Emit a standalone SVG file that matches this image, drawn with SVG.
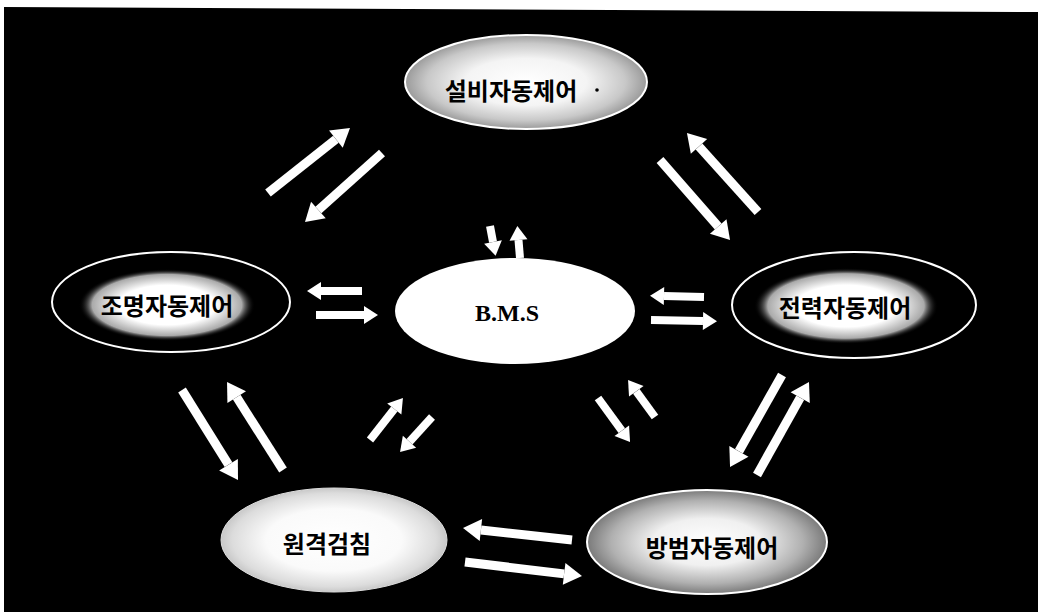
<svg xmlns="http://www.w3.org/2000/svg" width="1041" height="615" viewBox="0 0 1041 615">
<style>
.lbl{font-family:"Noto Sans CJK KR","Noto Sans",sans-serif;font-weight:700;font-size:24px;fill:#000;text-anchor:middle;dominant-baseline:central}
.bms{font-family:"Liberation Serif",serif;font-weight:700;font-size:24px;fill:#000;text-anchor:middle;dominant-baseline:central}
.arr{stroke:#fff;stroke-width:9;fill:none;stroke-linecap:butt}
.arrs{stroke:#fff;stroke-width:8;fill:none;stroke-linecap:butt}
.ring{stroke:#fff;stroke-width:2}
</style>
<defs>
<marker id="hd" markerUnits="userSpaceOnUse" markerWidth="20" markerHeight="22" refX="0" refY="11" orient="auto" overflow="visible">
<path d="M0,0 L18,11 L0,22 Z" fill="#fff"/>
</marker>
<marker id="hs" markerUnits="userSpaceOnUse" markerWidth="16" markerHeight="18" refX="0" refY="9" orient="auto" overflow="visible">
<path d="M0,0 L14,9 L0,18 Z" fill="#fff"/>
</marker>
<radialGradient id="gGray" cx="50%" cy="50%" r="50%">
<stop offset="0" stop-color="#fff"/>
<stop offset="0.5" stop-color="#f4f4f4"/>
<stop offset="0.82" stop-color="#c8c8c8"/>
<stop offset="1" stop-color="#9a9a9a"/>
</radialGradient>
<radialGradient id="gDark" cx="50%" cy="50%" r="50%">
<stop offset="0" stop-color="#fff"/>
<stop offset="0.45" stop-color="#f0f0f0"/>
<stop offset="0.8" stop-color="#b0b0b0"/>
<stop offset="1" stop-color="#7a7a7a"/>
</radialGradient>
<radialGradient id="gLight" cx="50%" cy="50%" r="50%">
<stop offset="0" stop-color="#fff"/>
<stop offset="0.6" stop-color="#fafafa"/>
<stop offset="0.9" stop-color="#dcdcdc"/>
<stop offset="1" stop-color="#c8c8c8"/>
</radialGradient>
<radialGradient id="gGlow" cx="50%" cy="50%" r="50%">
<stop offset="0" stop-color="#fff"/>
<stop offset="0.55" stop-color="#fff"/>
<stop offset="0.85" stop-color="#aaa"/>
<stop offset="1" stop-color="#000" stop-opacity="0"/>
</radialGradient>
</defs>
<rect width="1041" height="615" fill="#fff"/>
<polygon points="4,7 1038,12 1038,612 4,612" fill="#000"/>

<g id="connectors">
<line class="arr" x1="268" y1="193" x2="335.9" y2="139.2" marker-end="url(#hd)"/>
<line class="arr" x1="382" y1="153" x2="318.4" y2="210" marker-end="url(#hd)"/>
<line class="arr" x1="660" y1="160" x2="718.2" y2="226.5" marker-end="url(#hd)"/>
<line class="arr" x1="758" y1="212" x2="699" y2="146.4" marker-end="url(#hd)"/>
<line class="arrs" x1="490" y1="226" x2="493" y2="242" marker-end="url(#hs)"/>
<line class="arrs" x1="520" y1="258" x2="518.5" y2="240" marker-end="url(#hs)"/>
<line class="arrs" x1="362" y1="291" x2="321" y2="291" marker-end="url(#hs)"/>
<line class="arrs" x1="316" y1="315" x2="364" y2="315" marker-end="url(#hs)"/>
<line class="arrs" x1="704" y1="297" x2="664" y2="296" marker-end="url(#hs)"/>
<line class="arrs" x1="651" y1="320" x2="703" y2="321" marker-end="url(#hs)"/>
<line class="arr" x1="182" y1="390" x2="228.5" y2="464.7" marker-end="url(#hd)"/>
<line class="arr" x1="283" y1="470" x2="236.7" y2="397.2" marker-end="url(#hd)"/>
<line class="arrs" x1="370" y1="440" x2="394.3" y2="409" marker-end="url(#hs)"/>
<line class="arrs" x1="432" y1="417" x2="409.5" y2="441.7" marker-end="url(#hs)"/>
<line class="arrs" x1="598" y1="398" x2="621.8" y2="430.7" marker-end="url(#hs)"/>
<line class="arrs" x1="655" y1="417" x2="636.3" y2="391.3" marker-end="url(#hs)"/>
<line class="arr" x1="782" y1="375" x2="738.9" y2="451.3" marker-end="url(#hd)"/>
<line class="arr" x1="757" y1="475" x2="800.2" y2="397.7" marker-end="url(#hd)"/>
<line class="arr" x1="572" y1="540" x2="480.9" y2="530" marker-end="url(#hd)"/>
<line class="arr" x1="465" y1="562" x2="564.1" y2="573.9" marker-end="url(#hd)"/>
</g>

<g id="node-top">
<ellipse class="ring" cx="526" cy="82" rx="121" ry="47" fill="url(#gGray)"/>
<text class="lbl" x="511" y="89">설비자동제어</text>
<circle cx="597" cy="90" r="1.8" fill="#000"/>
</g>
<g id="node-left">
<ellipse class="ring" cx="171" cy="302" rx="119" ry="50" fill="#000"/>
<ellipse cx="167" cy="305" rx="88" ry="36" fill="url(#gGlow)"/>
<text class="lbl" x="167" y="304">조명자동제어</text>
</g>
<g id="node-right">
<ellipse class="ring" cx="854" cy="305" rx="122" ry="53" fill="#000"/>
<ellipse cx="846" cy="306" rx="92" ry="38" fill="url(#gGlow)"/>
<text class="lbl" x="845" y="306">전력자동제어</text>
</g>
<g id="node-bms">
<ellipse cx="515" cy="311" rx="120" ry="53" fill="#fff"/>
<text class="bms" x="507" y="313">B.M.S</text>
</g>
<g id="node-bl">
<ellipse cx="334" cy="540" rx="113" ry="52" fill="url(#gLight)" stroke="#ddd" stroke-width="1"/>
<text class="lbl" x="327" y="542">원격검침</text>
</g>
<g id="node-br">
<ellipse class="ring" cx="707" cy="542" rx="120" ry="52" fill="url(#gDark)"/>
<text class="lbl" x="712" y="546">방범자동제어</text>
</g>
</svg>
